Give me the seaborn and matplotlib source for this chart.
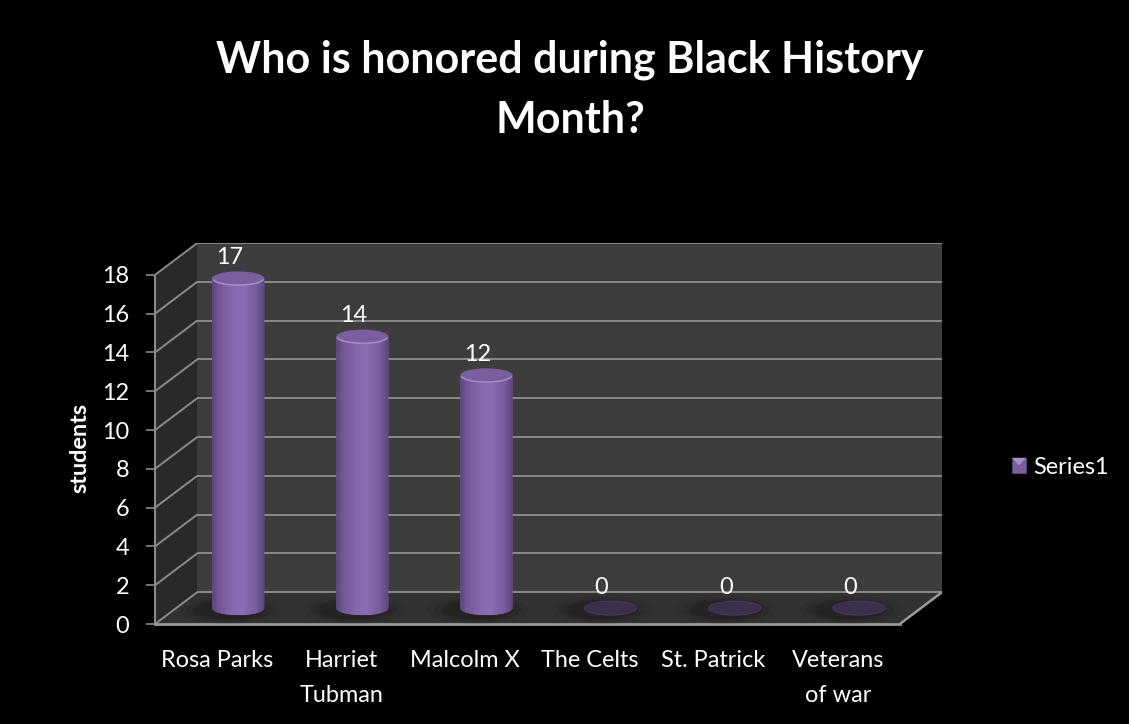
import numpy as np
import pandas as pd
import matplotlib
matplotlib.use("Agg")
import matplotlib.pyplot as plt
import seaborn as sns
from matplotlib.patches import Ellipse, Polygon, PathPatch, Rectangle, Arc
from matplotlib.path import Path
from matplotlib.colors import LinearSegmentedColormap
from matplotlib.legend_handler import HandlerBase

# ---- data -------------------------------------------------------------
categories = ["Rosa Parks", "Harriet\nTubman", "Malcolm X",
              "The Celts", "St. Patrick", "Veterans\nof war"]
students = [17, 14, 12, 0, 0, 0]
y_ticks = [0, 2, 4, 6, 8, 10, 12, 14, 16, 18]
series_name = "Series1"
chart_title = "Who is honored during Black History\nMonth?"
y_label = "students"

# ---- style ------------------------------------------------------------
sns.set_style("dark")
plt.rcParams["font.family"] = ["Lato", "DejaVu Sans"]

PURPLE = "#8064a2"
TOP_FILL = "#7b5e9e"
TOP_RIM = "#a58ec6"
ZERO_FILL = "#3b2f4e"
BACK_WALL = "#3d3d3d"
SIDE_WALL = "#292929"
FLOOR = "#323232"
GRID = "#8a8a8a"
TEXT = "white"
FS = 16.9

# depth of the 3-D box, in category / value units
DX = 0.17
DY = 0.82
# vertical size of the cylinder end caps, in value units
CAP_H = 0.72
Y_MAX = max(y_ticks)

cyl_cmap = LinearSegmentedColormap.from_list(
    "cyl", [(0.0, "#5a437c"), (0.12, "#725797"), (0.4, "#8669ae"),
            (0.6, "#8a6db2"), (0.82, "#7a5d9f"), (1.0, "#5c4579")])

fig = plt.figure(figsize=(11.29, 7.24), dpi=100, facecolor="black")
ax = fig.add_axes([0.1373, 0.1381, 0.6971, 0.5262])
ax.set_facecolor("none")

df = pd.DataFrame({"name": categories, "students": students})
sns.barplot(data=df, x="name", y="students", width=0.42, color=PURPLE,
            errorbar=None, ax=ax, zorder=3, saturation=1)
bars = list(ax.patches)

n = len(categories)
x_lo, x_hi = -0.5, n - 0.5
ax.set_xlim(x_lo - DX, x_hi + DX)
ax.set_ylim(-DY, Y_MAX + DY)

# ---- box: side wall, back wall, floor ---------------------------------
ax.add_patch(Polygon([(x_lo - DX, -DY), (x_lo - DX, Y_MAX - DY),
                      (x_lo + DX, Y_MAX + DY), (x_lo + DX, DY)],
                     closed=True, fc=SIDE_WALL, ec="none", zorder=0))
ax.add_patch(Rectangle((x_lo + DX, DY), x_hi - x_lo, Y_MAX,
                       fc=BACK_WALL, ec="none", zorder=0))
ax.add_patch(Polygon([(x_lo - DX, -DY), (x_hi - DX, -DY),
                      (x_hi + DX, DY), (x_lo + DX, DY)],
                     closed=True, fc=FLOOR, ec="none", zorder=0.5))

# gridlines on the back wall and the side wall
ax.hlines([v + DY for v in y_ticks], x_lo + DX, x_hi + DX,
          colors=GRID, lw=1.4, zorder=1)
for v in y_ticks:
    ax.plot([x_lo - DX, x_lo + DX], [v - DY, v + DY], color=GRID,
            lw=1.4, zorder=1, solid_capstyle="butt")
ax.plot([x_hi - DX, x_hi + DX], [-DY, DY], color="#9a9a9a", lw=1.8, zorder=1)

# ---- cylinders ----------------------------------------------------------
for bar, value in zip(bars, students):
    w = bar.get_width()
    x0 = bar.get_x()
    xc = x0 + w / 2
    h = bar.get_height()
    bar.set_visible(False)

    # soft shadow on the floor
    for sw, sh, a in [(0.82, 1.45, 0.06), (0.70, 1.2, 0.09), (0.58, 1.0, 0.12)]:
        ax.add_patch(Ellipse((xc - 0.07, -0.1), sw, sh, fc="black",
                             ec="none", alpha=a, zorder=2))

    if h <= 0:
        ax.add_patch(Ellipse((xc, 0), w, CAP_H, fc=ZERO_FILL,
                             ec="#4a3c60", lw=0.6, zorder=3))
    else:
        t = np.linspace(np.pi, 2 * np.pi, 60)
        arc = np.column_stack([xc + w / 2 * np.cos(t), CAP_H / 2 * np.sin(t)])
        verts = np.vstack([[x0, h], [x0, 0], arc, [x0 + w, 0], [x0 + w, h],
                           [x0, h]])
        body = PathPatch(Path(verts), fc=PURPLE, ec="none", zorder=3)
        ax.add_patch(body)
        img = ax.imshow(np.linspace(0, 1, 256)[None, :], cmap=cyl_cmap,
                        extent=[x0, x0 + w, -CAP_H / 2, h], aspect="auto",
                        zorder=3.1, interpolation="bilinear")
        img.set_clip_path(body)
        ax.add_patch(Ellipse((xc, h), w, CAP_H, fc=TOP_FILL, ec="none",
                             zorder=3.2))
        ax.add_patch(Arc((xc, h), w * 0.98, CAP_H * 0.96, theta1=195,
                         theta2=345, color=TOP_RIM, lw=1.1, zorder=3.3))

    ax.annotate(f"{value}", (xc, h), xytext=(-6.5, 15),
                textcoords="offset points", ha="center", va="center",
                color=TEXT, fontsize=FS, zorder=5)

ax.set_xlim(x_lo - DX, x_hi + DX)
ax.set_ylim(-DY, Y_MAX + DY)

# ---- axes -------------------------------------------------------------
ax.grid(False)
ax.set_xlabel("")
ax.set_xticks([i - DX for i in range(n)], categories)
ax.set_yticks([v - DY for v in y_ticks], [str(v) for v in y_ticks])
ax.tick_params(axis="x", length=0, pad=18.5, labelsize=FS, labelcolor=TEXT)
ax.tick_params(axis="y", left=True, length=6.5, width=1.2, color=GRID,
               pad=12, labelsize=FS, labelcolor=TEXT)
for lbl in ax.get_xticklabels():
    lbl.set_linespacing(1.85)

for side in ("top", "right"):
    ax.spines[side].set_visible(False)
ax.spines["left"].set_bounds(-DY, Y_MAX - DY)
ax.spines["left"].set(color=GRID, lw=1.5, zorder=1.5)
ax.spines["bottom"].set_bounds(x_lo - DX, x_hi - DX)
ax.spines["bottom"].set(color="#9a9a9a", lw=2, zorder=1.5)

ax.set_ylabel(y_label, fontsize=FS, fontweight="bold", color=TEXT)
ax.yaxis.label.set(va="center", ha="center")
ax.yaxis.set_label_coords(-0.0953, 0.462)


# ---- legend -----------------------------------------------------------
class PyramidSwatch(HandlerBase):
    def create_artists(self, legend, orig_handle, xdescent, ydescent,
                       width, height, fontsize, trans):
        x, y = -xdescent, -ydescent
        sq = Rectangle((x, y), width, height, fc="#7a5e9e", ec="#5c4680",
                       lw=0.6, transform=trans)
        tri = Polygon([(x, y + height), (x + width, y + height),
                       (x + width / 2, y + height * 0.5)], closed=True,
                      fc="#a893c8", ec="none", transform=trans)
        return [sq, tri]


handle = Rectangle((0, 0), 1, 1, fc=PURPLE)
leg = ax.legend([handle], [series_name], handler_map={Rectangle: PyramidSwatch()},
                loc="center left", bbox_to_anchor=(1012 / 1129, 1 - 467 / 724),
                bbox_transform=fig.transFigure, frameon=False, borderpad=0,
                borderaxespad=0, handlelength=0.6, handleheight=0.6,
                handletextpad=0.3, fontsize=FS)
for txt in leg.get_texts():
    txt.set_color(TEXT)

# ---- title ------------------------------------------------------------
fig.text(570 / 1129, 1 - 40 / 724, chart_title, ha="center", va="top",
         fontsize=31, fontweight="bold", color=TEXT, linespacing=1.58)

fig.savefig("out.png", dpi=100, facecolor="black")
